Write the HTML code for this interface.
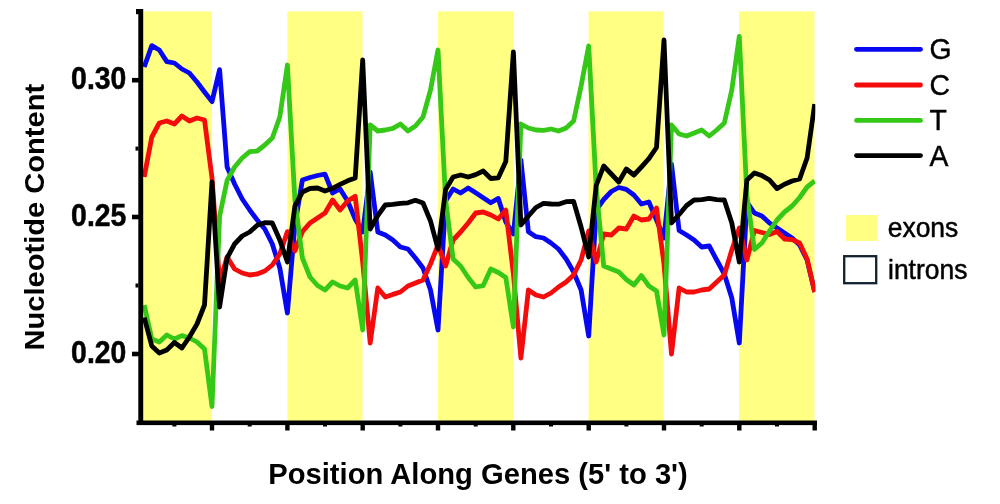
<!DOCTYPE html>
<html><head><meta charset="utf-8"><style>
html,body{margin:0;padding:0;background:#fff;}
body{width:1000px;height:504px;overflow:hidden;position:relative;font-family:"Liberation Sans",sans-serif;}
svg{position:absolute;left:0;top:0;}
text{font-family:"Liberation Sans",sans-serif;}
</style></head><body>
<svg width="1000" height="504" viewBox="0 0 1000 504">
<rect width="1000" height="504" fill="#fff"/>
<rect x="143.0" y="11.4" width="69.0" height="409.6" fill="#ffff84"/><rect x="287.3" y="11.4" width="75.2" height="409.6" fill="#ffff84"/><rect x="437.8" y="11.4" width="75.7" height="409.6" fill="#ffff84"/><rect x="588.5" y="11.4" width="75.2" height="409.6" fill="#ffff84"/><rect x="739.0" y="11.4" width="75.5" height="409.6" fill="#ffff84"/>
<clipPath id="cp"><rect x="140" y="0" width="675.3" height="430"/></clipPath>
<g clip-path="url(#cp)" fill="none" stroke-width="4.8" stroke-linejoin="round" stroke-linecap="butt">
<polyline stroke="#0808f0" points="144.2,67.0 151.8,45.6 159.3,50.0 166.8,61.6 174.4,63.0 181.9,69.0 189.4,73.0 197.0,82.0 204.5,92.0 212.0,101.6 219.6,69.6 227.1,167.0 234.6,184.0 242.2,199.0 249.7,210.0 257.2,220.0 264.8,229.0 272.3,244.0 279.8,268.0 287.4,313.0 294.9,225.0 302.4,180.0 310.0,177.5 317.5,175.5 325.0,174.2 332.6,193.0 340.1,189.0 347.6,201.0 355.2,219.0 362.7,232.0 370.2,172.0 377.8,232.0 385.3,235.0 392.8,240.0 400.4,247.0 407.9,249.0 415.4,258.0 423.0,268.0 430.5,290.0 438.0,330.0 445.6,201.0 453.1,189.0 460.6,193.0 468.2,188.0 475.7,192.8 483.2,197.8 490.8,202.8 498.3,198.4 505.8,222.0 513.4,234.0 520.9,160.0 528.4,231.7 535.9,236.7 543.5,238.0 551.0,243.0 558.5,249.0 566.1,259.0 573.6,272.0 581.1,290.0 588.7,336.0 596.2,210.0 603.7,199.5 611.3,191.5 618.8,187.5 626.3,189.3 633.9,195.0 641.4,204.0 648.9,202.0 656.5,220.0 664.0,238.0 671.5,164.0 679.1,230.5 686.6,235.0 694.1,240.0 701.7,247.0 709.2,246.0 716.7,260.0 724.3,274.0 731.8,298.0 739.3,343.0 746.9,202.0 754.4,213.0 761.9,216.0 769.5,223.0 777.0,228.0 784.5,233.0 792.1,238.0 799.6,245.0 807.1,260.0 814.7,292.0"/>
<polyline stroke="#f40c0c" points="144.2,177.0 151.8,137.0 159.3,123.0 166.8,121.0 174.4,124.0 181.9,116.0 189.4,121.0 197.0,118.0 204.5,120.0 212.0,178.0 219.6,282.0 227.1,257.0 234.6,269.0 242.2,273.0 249.7,275.0 257.2,274.0 264.8,271.0 272.3,265.0 279.8,254.0 287.4,231.6 294.9,251.0 302.4,231.6 310.0,223.0 317.5,218.0 325.0,213.0 332.6,200.0 340.1,210.0 347.6,201.0 355.2,196.2 362.7,262.0 370.2,343.0 377.8,288.0 385.3,297.0 392.8,294.4 400.4,292.0 407.9,286.0 415.4,283.0 423.0,280.0 430.5,264.0 438.0,245.0 445.6,266.0 453.1,240.0 460.6,232.0 468.2,223.0 475.7,213.0 483.2,212.0 490.8,215.0 498.3,219.0 505.8,210.0 513.4,274.0 520.9,358.0 528.4,290.0 535.9,295.0 543.5,297.0 551.0,293.0 558.5,287.0 566.1,282.0 573.6,275.0 581.1,260.0 588.7,231.0 596.2,262.0 603.7,234.0 611.3,235.0 618.8,228.0 626.3,229.0 633.9,216.0 641.4,220.0 648.9,219.0 656.5,208.0 664.0,264.0 671.5,354.0 679.1,288.0 686.6,292.0 694.1,292.0 701.7,290.0 709.2,289.0 716.7,282.0 724.3,275.0 731.8,250.0 739.3,228.0 746.9,260.0 754.4,230.5 761.9,232.5 769.5,234.5 777.0,231.5 784.5,239.0 792.1,239.6 799.6,243.0 807.1,259.0 814.7,292.0"/>
<polyline stroke="#35c817" points="144.2,305.0 151.8,339.0 159.3,342.0 166.8,335.0 174.4,339.0 181.9,335.6 189.4,338.0 197.0,342.0 204.5,349.0 212.0,406.5 219.6,216.0 227.1,180.5 234.6,167.0 242.2,158.0 249.7,151.6 257.2,151.0 264.8,145.0 272.3,138.0 279.8,117.0 287.4,65.0 294.9,200.0 302.4,258.0 310.0,277.0 317.5,285.5 325.0,290.0 332.6,282.0 340.1,286.0 347.6,288.0 355.2,280.0 362.7,330.0 370.2,125.0 377.8,131.0 385.3,130.0 392.8,128.4 400.4,124.0 407.9,131.0 415.4,126.0 423.0,117.0 430.5,90.0 438.0,50.0 445.6,200.0 453.1,259.0 460.6,266.0 468.2,277.5 475.7,287.0 483.2,285.6 490.8,269.0 498.3,272.5 505.8,277.5 513.4,327.0 520.9,124.0 528.4,128.0 535.9,130.0 543.5,130.4 551.0,129.0 558.5,131.0 566.1,128.0 573.6,121.0 581.1,86.0 588.7,46.0 596.2,188.0 603.7,266.0 611.3,269.0 618.8,272.0 626.3,279.5 633.9,285.0 641.4,275.6 648.9,286.0 656.5,291.0 664.0,335.0 671.5,125.0 679.1,134.0 686.6,136.0 694.1,133.0 701.7,130.0 709.2,136.0 716.7,130.0 724.3,123.0 731.8,90.0 739.3,36.4 746.9,196.0 754.4,249.5 761.9,243.0 769.5,231.0 777.0,220.0 784.5,212.0 792.1,206.0 799.6,197.5 807.1,187.0 814.7,181.0"/>
<polyline stroke="#000" points="144.2,317.5 151.8,346.0 159.3,353.0 166.8,350.0 174.4,342.5 181.9,348.0 189.4,337.0 197.0,324.0 204.5,305.0 212.0,182.0 219.6,307.0 227.1,258.0 234.6,244.0 242.2,236.0 249.7,232.0 257.2,225.3 264.8,222.7 272.3,223.0 279.8,240.0 287.4,262.0 294.9,206.0 302.4,192.0 310.0,188.5 317.5,188.0 325.0,191.0 332.6,188.3 340.1,184.3 347.6,180.8 355.2,178.0 362.7,60.0 370.2,229.0 377.8,215.5 385.3,205.0 392.8,204.4 400.4,203.3 407.9,202.8 415.4,200.3 423.0,203.0 430.5,221.0 438.0,249.0 445.6,189.5 453.1,177.0 460.6,175.0 468.2,177.0 475.7,174.6 483.2,171.0 490.8,178.5 498.3,177.8 505.8,161.5 513.4,52.0 520.9,225.0 528.4,216.0 535.9,207.5 543.5,203.3 551.0,204.0 558.5,204.2 566.1,201.7 573.6,201.3 581.1,227.0 588.7,257.0 596.2,185.5 603.7,166.0 611.3,174.0 618.8,182.0 626.3,169.0 633.9,175.0 641.4,167.0 648.9,158.7 656.5,147.5 664.0,40.0 671.5,223.0 679.1,214.5 686.6,205.5 694.1,200.0 701.7,199.6 709.2,198.4 716.7,199.6 724.3,200.0 731.8,223.0 739.3,262.0 746.9,180.0 754.4,173.0 761.9,175.6 769.5,180.0 777.0,188.6 784.5,184.2 792.1,181.0 799.6,179.0 807.1,158.0 814.7,104.0"/>
</g>
<rect x="138.3" y="9" width="4.9" height="416" fill="#000"/>
<rect x="136.5" y="420.5" width="680.5" height="4.6" fill="#000"/>
<rect x="136" y="9" width="4" height="5.2" fill="#000"/>
<rect x="209.8" y="423" width="4.4" height="7.5" fill="#000"/><rect x="285.2" y="423" width="4.4" height="7.5" fill="#000"/><rect x="360.5" y="423" width="4.4" height="7.5" fill="#000"/><rect x="435.8" y="423" width="4.4" height="7.5" fill="#000"/><rect x="511.1" y="423" width="4.4" height="7.5" fill="#000"/><rect x="586.5" y="423" width="4.4" height="7.5" fill="#000"/><rect x="661.8" y="423" width="4.4" height="7.5" fill="#000"/><rect x="737.1" y="423" width="4.4" height="7.5" fill="#000"/><rect x="812.5" y="423" width="4.4" height="7.5" fill="#000"/><rect x="172.4" y="423" width="4" height="3.5" fill="#000"/><rect x="247.7" y="423" width="4" height="3.5" fill="#000"/><rect x="323.0" y="423" width="4" height="3.5" fill="#000"/><rect x="398.4" y="423" width="4" height="3.5" fill="#000"/><rect x="473.7" y="423" width="4" height="3.5" fill="#000"/><rect x="549.0" y="423" width="4" height="3.5" fill="#000"/><rect x="624.4" y="423" width="4" height="3.5" fill="#000"/><rect x="699.7" y="423" width="4" height="3.5" fill="#000"/><rect x="775.0" y="423" width="4" height="3.5" fill="#000"/><rect x="132" y="77.9" width="7" height="4.6" fill="#000"/><rect x="132" y="214.7" width="7" height="4.6" fill="#000"/><rect x="132" y="351.7" width="7" height="4.6" fill="#000"/><rect x="135.5" y="146.6" width="3" height="4" fill="#000"/><rect x="135.5" y="283.5" width="3" height="4" fill="#000"/>
<g opacity="0.999">
<g font-weight="bold" font-size="30.5" text-anchor="end" fill="#000" stroke="#000" stroke-width="0.5">
<text transform="translate(126.3,89.2) scale(0.93,1)">0.30</text>
<text transform="translate(126.3,225.9) scale(0.93,1)">0.25</text>
<text transform="translate(126.3,362.9) scale(0.93,1)">0.20</text>
</g>
<text transform="translate(43.8,217.2) rotate(-90) scale(1.022,1)" text-anchor="middle" font-weight="bold" font-size="28.5" fill="#000">Nucleotide Content</text>
<text transform="translate(478,484) scale(1.006,1)" text-anchor="middle" font-weight="bold" font-size="29" fill="#000">Position Along Genes (5' to 3')</text>
<g stroke-width="4.8" stroke-linecap="round">
<line x1="856.5" x2="920.5" y1="49.3" y2="49.3" stroke="#0808f0"/>
<line x1="856.5" x2="920.5" y1="85" y2="85" stroke="#f40c0c"/>
<line x1="856.5" x2="920.5" y1="120.4" y2="120.4" stroke="#35c817"/>
<line x1="856.5" x2="920.5" y1="155.6" y2="155.6" stroke="#000"/>
</g>
<g font-size="30" fill="#000" stroke="#000" stroke-width="0.45">
<text transform="translate(929.5,59.2) scale(0.945,1)">G</text>
<text transform="translate(929.5,94.9) scale(0.945,1)">C</text>
<text transform="translate(929.5,130.3) scale(0.945,1)">T</text>
<text transform="translate(929.5,165.5) scale(0.945,1)">A</text>
</g>
<rect x="846" y="215" width="31" height="26" fill="#ffff84"/>
<rect x="844.2" y="256.2" width="32" height="27" fill="#fff" stroke="#10222f" stroke-width="2.3"/>
<g font-size="27" fill="#000" stroke="#000" stroke-width="0.5">
<text transform="translate(887.7,237.2) scale(0.98,1)">exons</text>
<text transform="translate(888,278.8) scale(0.98,1)">introns</text>
</g>
</g>
</svg>
</body></html>
